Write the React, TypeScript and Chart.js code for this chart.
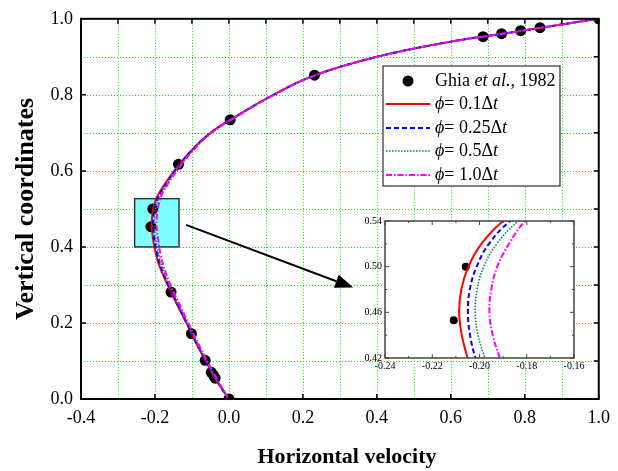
import React, { useEffect, useRef } from 'react';
import { Chart, registerables } from 'chart.js';
Chart.register(...registerables);

// ---------- data ----------
const profileY = [0, 0.03, 0.06, 0.1, 0.15, 0.2, 0.25, 0.3, 0.35, 0.38, 0.40, 0.42, 0.44, 0.46, 0.48, 0.50, 0.52, 0.54, 0.57, 0.6, 0.65, 0.7, 0.75, 0.8, 0.85, 0.9, 0.94, 0.96, 0.98, 1.0];
const uPhi01 = [0, -0.021, -0.041, -0.063, -0.090, -0.115, -0.141, -0.166, -0.188, -0.197, -0.2015, -0.2050, -0.2075, -0.2086, -0.2077, -0.2047, -0.1992, -0.1900, -0.170, -0.148, -0.105, -0.050, 0.030, 0.120, 0.228, 0.400, 0.600, 0.735, 0.866, 1.0];
const uPhi025 = [0, -0.021, -0.040, -0.062, -0.089, -0.114, -0.139, -0.164, -0.185, -0.1935, -0.1982, -0.2017, -0.2040, -0.2049, -0.2041, -0.2012, -0.1960, -0.1870, -0.167, -0.146, -0.104, -0.049, 0.031, 0.121, 0.229, 0.401, 0.601, 0.736, 0.866, 1.0];
const uPhi05 = [0, -0.020, -0.039, -0.061, -0.088, -0.113, -0.137, -0.162, -0.182, -0.1895, -0.1940, -0.1977, -0.2006, -0.2018, -0.2010, -0.1982, -0.1927, -0.1836, -0.165, -0.144, -0.102, -0.048, 0.032, 0.121, 0.229, 0.401, 0.601, 0.736, 0.866, 1.0];
const uPhi10 = [0, -0.019, -0.037, -0.059, -0.085, -0.110, -0.134, -0.158, -0.177, -0.1845, -0.1885, -0.1914, -0.1944, -0.1958, -0.1950, -0.1925, -0.1875, -0.1805, -0.162, -0.141, -0.100, -0.047, 0.033, 0.122, 0.230, 0.402, 0.602, 0.736, 0.866, 1.0];

const ghiaY = [1.0, 0.9766, 0.9688, 0.9609, 0.9531, 0.8516, 0.7344, 0.6172, 0.5, 0.4531, 0.2813, 0.1719, 0.1016, 0.0703, 0.0625, 0.0547, 0.0];
const ghiaU = [1.0, 0.84123, 0.78871, 0.73722, 0.68717, 0.23151, 0.00332, -0.13641, -0.20581, -0.2109, -0.15662, -0.1015, -0.06434, -0.04775, -0.04192, -0.03717, 0.0];

const seriesNames = ['0.1', '0.25', '0.5', '1.0'];
const zoomBoxX = [-0.255, -0.135];
const zoomBoxY = [0.4, 0.527];
const arrowFrom = [-0.116, 0.458];
const arrowTo = [0.336, 0.293];

const FONT = "'Liberation Serif', 'Times New Roman', serif";

const seriesStyles = [
  { color: '#ff0000', dash: [] as number[], width: 2 },
  { color: '#0000ff', dash: [5, 3], width: 2 },
  { color: '#008080', dash: [1.5, 1.5], width: 1.6 },
  { color: '#ff00ff', dash: [6, 2, 1.5, 2], width: 2 },
];
const seriesU = [uPhi01, uPhi025, uPhi05, uPhi10];

function toXY(xs: number[], ys: number[]) {
  return xs.map((x, i) => ({ x, y: ys[i] }));
}

function buildDatasets(pointRadius: number) {
  const lines = [3, 2, 1, 0].map((k) => ({
    label: seriesNames[k],
    data: toXY(seriesU[k], profileY),
    showLine: true,
    borderColor: seriesStyles[k].color,
    borderDash: seriesStyles[k].dash,
    borderWidth: seriesStyles[k].width,
    pointRadius: 0,
    tension: 0.4,
    fill: false,
  }));
  const pts = {
    label: 'Ghia',
    data: toXY(ghiaU, ghiaY),
    showLine: false,
    pointRadius,
    pointBackgroundColor: '#000',
    pointBorderColor: '#000',
    borderWidth: 0,
  };
  return [...lines, pts];
}

function drawRich(ctx: CanvasRenderingContext2D, x: number, y: number, segs: [string, boolean][], size: number) {
  let cx = x;
  for (const [t, it] of segs) {
    ctx.font = `${it ? 'italic ' : ''}${size}px ${FONT}`;
    ctx.fillText(t, cx, y);
    cx += ctx.measureText(t).width;
  }
}

const mainPlugin = {
  id: 'mainDeco',
  beforeDatasetsDraw(chart: any) {
    const { ctx, chartArea: a, scales } = chart;
    const x = scales.x, y = scales.y;
    ctx.save();
    // dotted grid
    ctx.strokeStyle = 'rgb(0,235,0)';
    ctx.lineWidth = 1;
    ctx.setLineDash([1, 2]);
    ctx.beginPath();
    for (let i = 1; i < 14; i++) {
      const px = Math.round(x.getPixelForValue(-0.4 + i * 0.1)) + 0.5;
      ctx.moveTo(px, a.top);
      ctx.lineTo(px, a.bottom);
    }
    for (let i = 1; i < 10; i++) {
      const py = Math.round(y.getPixelForValue(i * 0.1)) + 0.5;
      ctx.moveTo(a.left, py);
      ctx.lineTo(a.right, py);
    }
    ctx.stroke();
    ctx.setLineDash([]);

    ctx.beginPath();
    ctx.rect(a.left, a.top, a.right - a.left, a.bottom - a.top);
    ctx.clip();
    const x0 = x.getPixelForValue(zoomBoxX[0]);
    const x1 = x.getPixelForValue(zoomBoxX[1]);
    const y0 = y.getPixelForValue(zoomBoxY[1]);
    const y1 = y.getPixelForValue(zoomBoxY[0]);
    ctx.fillStyle = '#80ffff';
    ctx.fillRect(x0, y0, x1 - x0, y1 - y0);
    ctx.strokeStyle = '#333';
    ctx.lineWidth = 1.5;
    ctx.strokeRect(x0, y0, x1 - x0, y1 - y0);
    ctx.restore();
  },
  afterDatasetsDraw(chart: any) {
    const { ctx, chartArea: a, scales } = chart;
    const sx = scales.x, sy = scales.y;
    ctx.save();
    // arrow
    const ax0 = sx.getPixelForValue(arrowFrom[0]);
    const ay0 = sy.getPixelForValue(arrowFrom[1]);
    const ax1 = sx.getPixelForValue(arrowTo[0]);
    const ay1 = sy.getPixelForValue(arrowTo[1]);
    const ang = Math.atan2(ay1 - ay0, ax1 - ax0);
    const hl = 18, hw = 7;
    const bx = ax1 - hl * Math.cos(ang), by = ay1 - hl * Math.sin(ang);
    ctx.strokeStyle = '#000';
    ctx.lineWidth = 2;
    ctx.beginPath();
    ctx.moveTo(ax0, ay0);
    ctx.lineTo(bx, by);
    ctx.stroke();
    ctx.fillStyle = '#000';
    ctx.beginPath();
    ctx.moveTo(ax1, ay1);
    ctx.lineTo(bx + hw * Math.sin(ang), by - hw * Math.cos(ang));
    ctx.lineTo(bx - hw * Math.sin(ang), by + hw * Math.cos(ang));
    ctx.closePath();
    ctx.fill();

    // frame
    ctx.strokeStyle = '#000';
    ctx.lineWidth = 2;
    ctx.strokeRect(a.left, a.top, a.right - a.left, a.bottom - a.top);
    // ticks
    ctx.lineWidth = 1.5;
    ctx.beginPath();
    for (let i = 0; i <= 14; i++) {
      const v = -0.4 + i * 0.1;
      const px = sx.getPixelForValue(v);
      ctx.moveTo(px, a.top);
      ctx.lineTo(px, a.top + 5);
      if (i % 2 === 0) {
        ctx.moveTo(px, a.bottom);
        ctx.lineTo(px, a.bottom - 5);
      }
    }
    for (let i = 0; i <= 10; i++) {
      const v = i * 0.1;
      const py = sy.getPixelForValue(v);
      ctx.moveTo(a.right, py);
      ctx.lineTo(a.right - 5, py);
      if (i % 2 === 0) {
        ctx.moveTo(a.left, py);
        ctx.lineTo(a.left + 5, py);
      }
    }
    ctx.stroke();

    // legend
    const lx = 383, ly = 66, lw = 177, lh = 120;
    ctx.fillStyle = '#fff';
    ctx.fillRect(lx, ly, lw, lh);
    ctx.strokeStyle = '#555';
    ctx.lineWidth = 1.5;
    ctx.strokeRect(lx, ly, lw, lh);
    ctx.fillStyle = '#000';
    ctx.textBaseline = 'middle';
    ctx.textAlign = 'left';
    const rows = [81, 104, 128, 151, 175];
    ctx.beginPath();
    ctx.arc(408, rows[0], 5.5, 0, Math.PI * 2);
    ctx.fill();
    drawRich(ctx, 435, rows[0], [['Ghia ', false], ['et al.', true], [', 1982', false]], 18);
    for (let k = 0; k < 4; k++) {
      const st = seriesStyles[k];
      ctx.strokeStyle = st.color;
      ctx.lineWidth = st.width;
      ctx.setLineDash(st.dash);
      ctx.beginPath();
      ctx.moveTo(386, rows[k + 1]);
      ctx.lineTo(430, rows[k + 1]);
      ctx.stroke();
      ctx.setLineDash([]);
      ctx.fillStyle = '#000';
      drawRich(ctx, 435, rows[k + 1], [['\u03D5', true], ['= ' + seriesNames[k] + '\u0394', false], ['t', true]], 18);
    }

    // axis titles
    ctx.fillStyle = '#000';
    ctx.textAlign = 'center';
    ctx.textBaseline = 'alphabetic';
    ctx.font = `bold 22px ${FONT}`;
    ctx.fillText('Horizontal velocity', 347, 463);
    ctx.font = `bold 26px ${FONT}`;
    ctx.translate(33, (a.top + a.bottom) / 2);
    ctx.rotate(-Math.PI / 2);
    ctx.fillText('Vertical coordinates', 0, 0);
    ctx.restore();
  },
};

const insetPlugin = {
  id: 'insetDeco',
  beforeDatasetsDraw(chart: any) {
    const { ctx, chartArea: a } = chart;
    ctx.save();
    ctx.fillStyle = '#fff';
    ctx.fillRect(a.left, a.top, a.right - a.left, a.bottom - a.top);
    ctx.restore();
  },
  afterDraw(chart: any) {
    const { ctx, chartArea: a, scales } = chart;
    const sx = scales.x, sy = scales.y;
    ctx.save();
    ctx.strokeStyle = '#444';
    ctx.lineWidth = 1.5;
    ctx.strokeRect(a.left, a.top, a.right - a.left, a.bottom - a.top);
    ctx.lineWidth = 1;
    ctx.beginPath();
    for (let i = 0; i <= 8; i++) {
      const px = sx.getPixelForValue(-0.24 + i * 0.01);
      const l = i % 2 === 0 ? 4 : 2;
      ctx.moveTo(px, a.bottom); ctx.lineTo(px, a.bottom - l);
      ctx.moveTo(px, a.top); ctx.lineTo(px, a.top + l);
    }
    for (let i = 0; i <= 6; i++) {
      const py = sy.getPixelForValue(0.42 + i * 0.02);
      const l = i % 2 === 0 ? 4 : 2;
      ctx.moveTo(a.left, py); ctx.lineTo(a.left + l, py);
      ctx.moveTo(a.right, py); ctx.lineTo(a.right - l, py);
    }
    ctx.stroke();
    ctx.restore();
  },
};

function fmt1(v: number) {
  return (Math.round(v * 10) / 10).toFixed(1);
}

export default function App() {
  const mainRef = useRef<HTMLCanvasElement>(null);
  const insetRef = useRef<HTMLCanvasElement>(null);

  useEffect(() => {
    Chart.defaults.font.family = FONT;
    Chart.defaults.color = '#000';
    const main = new Chart(mainRef.current as HTMLCanvasElement, {
      type: 'scatter',
      data: { datasets: buildDatasets(5.5) as any },
      options: {
        animation: false,
        responsive: false,
        devicePixelRatio: 1,
        layout: { padding: { left: 0, top: 17, right: 14, bottom: 0 } },
        plugins: { legend: { display: false }, tooltip: { enabled: false } },
        scales: {
          x: {
            type: 'linear',
            min: -0.4,
            max: 1.0,
            afterFit: (s: any) => { s.height = 72; },
            ticks: {
              stepSize: 0.1,
              padding: 8,
              maxRotation: 0,
              autoSkip: false,
              font: { size: 18, family: FONT },
              color: '#000',
              callback: (v: any) => (Math.round(Number(v) * 10) % 2 === 0 ? fmt1(Number(v)) : ''),
            },
            grid: { display: false, drawTicks: false },
            border: { display: false },
          } as any,
          y: {
            type: 'linear',
            min: 0,
            max: 1.0,
            afterFit: (s: any) => { s.width = 81; },
            ticks: {
              stepSize: 0.1,
              padding: 8,
              autoSkip: false,
              font: { size: 18, family: FONT },
              color: '#000',
              callback: (v: any) => (Math.round(Number(v) * 10) % 2 === 0 ? fmt1(Number(v)) : ''),
            },
            grid: { display: false, drawTicks: false },
            border: { display: false },
          } as any,
        },
      },
      plugins: [mainPlugin],
    });

    const inset = new Chart(insetRef.current as HTMLCanvasElement, {
      type: 'scatter',
      data: { datasets: buildDatasets(4) as any },
      options: {
        animation: false,
        responsive: false,
        devicePixelRatio: 1,
        layout: { padding: { left: 0, top: 10, right: 16, bottom: 0 } },
        plugins: { legend: { display: false }, tooltip: { enabled: false } },
        scales: {
          x: {
            type: 'linear',
            min: -0.24,
            max: -0.16,
            afterFit: (s: any) => { s.height = 18; },
            ticks: {
              stepSize: 0.02,
              padding: 2,
              maxRotation: 0,
              autoSkip: false,
              font: { size: 10, family: FONT },
              color: '#000',
              callback: (v: any) => (Math.round(Number(v) * 100) / 100).toFixed(2),
            },
            grid: { display: false, drawTicks: false },
            border: { display: false },
          } as any,
          y: {
            type: 'linear',
            min: 0.42,
            max: 0.54,
            afterFit: (s: any) => { s.width = 30; },
            ticks: {
              stepSize: 0.04,
              padding: 3,
              autoSkip: false,
              font: { size: 10, family: FONT },
              color: '#000',
              callback: (v: any) => (Math.round(Number(v) * 100) / 100).toFixed(2),
            },
            grid: { display: false, drawTicks: false },
            border: { display: false },
          } as any,
        },
      },
      plugins: [insetPlugin],
    });

    return () => {
      main.destroy();
      inset.destroy();
    };
  }, []);

  return (
    <div style={{ position: 'fixed', left: 0, top: 0, width: 618, height: 471, background: '#fff' }}>
      <canvas ref={mainRef} width={618} height={471} style={{ position: 'absolute', left: 0, top: 0 }} />
      <canvas ref={insetRef} width={235} height={165} style={{ position: 'absolute', left: 355, top: 211 }} />
    </div>
  );
}
